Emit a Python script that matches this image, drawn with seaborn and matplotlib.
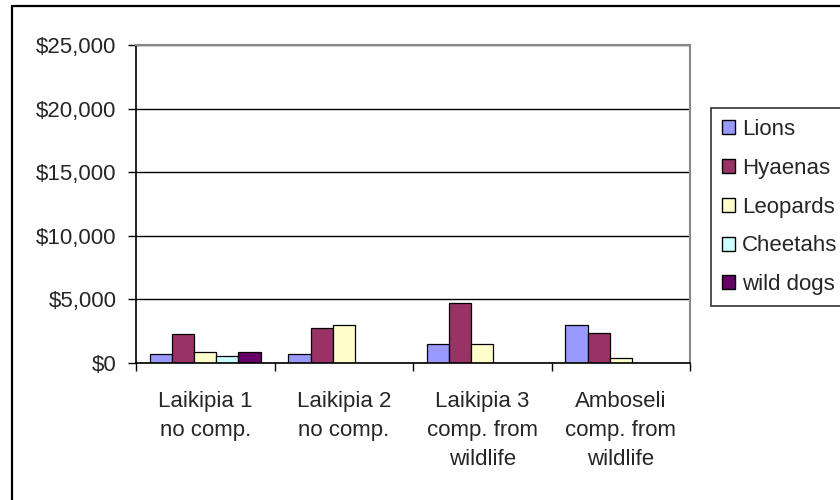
import numpy as np
import pandas as pd
import matplotlib
matplotlib.use("Agg")
import matplotlib.pyplot as plt
from matplotlib.lines import Line2D
from matplotlib.ticker import FuncFormatter, FixedLocator
import seaborn as sns

categories = ["Laikipia 1\nno comp.", "Laikipia 2\nno comp.",
              "Laikipia 3\ncomp. from\nwildlife", "Amboseli\ncomp. from\nwildlife"]
species = ["Lions", "Hyaenas", "Leopards", "Cheetahs", "wild dogs"]
lions = [730, 710, 1490, 2980]
hyaenas = [2280, 2720, 4710, 2380]
leopards = [860, 2980, 1490, 370]
cheetahs = [520, np.nan, np.nan, np.nan]
wild_dogs = [860, np.nan, np.nan, np.nan]
colors = ["#9999FF", "#993366", "#FFFFCC", "#CCFFFF", "#660066"]
y_ticks = [0, 5000, 10000, 15000, 20000, 25000]

series = [lions, hyaenas, leopards, cheetahs, wild_dogs]
rows = []
for sp, vals in zip(species, series):
    for cat, v in zip(categories, vals):
        rows.append({"site": cat, "species": sp, "cost": v})
df = pd.DataFrame(rows)

sns.set_style("white")
plt.rcParams["font.family"] = ["Liberation Sans", "DejaVu Sans"]
plt.rcParams["font.size"] = 16

fig = plt.figure(figsize=(8.4, 5.0), dpi=100)
ax = fig.add_axes([136 / 840, 1 - 363 / 500, (690 - 136) / 840, (363 - 45) / 500])

sns.barplot(data=df, x="site", y="cost", hue="species", order=categories,
            hue_order=species, palette=colors, edgecolor="black", linewidth=0.9,
            width=0.8, saturation=1, errorbar=None, ax=ax)

ax.set_ylim(0, 25000)
ax.set_xlim(-0.5, 3.5)
ax.set_yticks(y_ticks)
ax.yaxis.set_major_formatter(FuncFormatter(lambda v, p: f"${v:,.0f}"))
ax.yaxis.grid(True, color="black", linewidth=1)
ax.set_axisbelow(True)
ax.set_xlabel("")
ax.set_ylabel("")

ax.tick_params(axis="y", which="major", length=6, width=1, color="black",
               direction="out", pad=8, labelsize=16, left=True)
ax.tick_params(axis="x", which="major", length=0, pad=20, labelsize=16)
ax.xaxis.set_minor_locator(FixedLocator([-0.5, 0.5, 1.5, 2.5, 3.5]))
ax.tick_params(axis="x", which="minor", length=6, width=1, color="black",
               direction="out", bottom=True)
for lbl in ax.get_xticklabels():
    lbl.set_linespacing(1.5)

for side in ["left", "bottom"]:
    ax.spines[side].set_color("black")
    ax.spines[side].set_linewidth(1.2)
for side in ["top", "right"]:
    ax.spines[side].set_visible(True)
    ax.spines[side].set_color("#888888")
    ax.spines[side].set_linewidth(1.5)

handles, labels = ax.get_legend_handles_labels()
if ax.get_legend() is not None:
    ax.get_legend().remove()
leg = fig.legend(handles, labels, loc="upper left",
                 bbox_to_anchor=(711 / 840, 1 - 108 / 500),
                 bbox_transform=fig.transFigure, borderaxespad=0,
                 frameon=True, fancybox=False, shadow=False, fontsize=16,
                 handlelength=0.6, handleheight=0.6, handletextpad=0.3,
                 labelspacing=0.8, borderpad=0.5)
leg.get_frame().set_edgecolor("black")
leg.get_frame().set_linewidth(1.2)
for h in leg.legend_handles:
    h.set_edgecolor("black")
    h.set_linewidth(1.0)

fig.add_artist(Line2D([12 / 840, 12 / 840], [0, 1 - 6 / 500],
                      transform=fig.transFigure, color="black", linewidth=1.6))
fig.add_artist(Line2D([12 / 840, 1], [1 - 6 / 500, 1 - 6 / 500],
                      transform=fig.transFigure, color="black", linewidth=1.6))

fig.savefig("out.png", dpi=100)
